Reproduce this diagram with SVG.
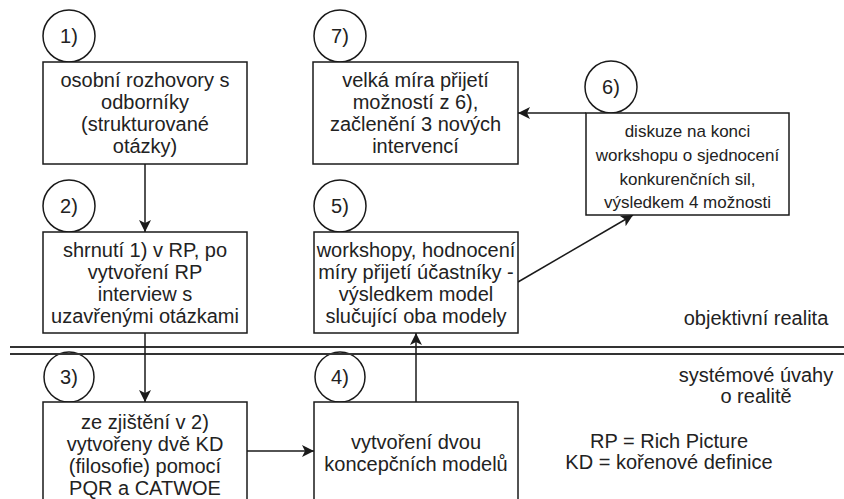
<svg xmlns="http://www.w3.org/2000/svg" width="844" height="499" viewBox="0 0 844 499">
  <style>
    .box { fill: #ffffff; stroke: #1a1a1a; stroke-width: 1.5; }
    .num { fill: #ffffff; stroke: #1a1a1a; stroke-width: 1.5; }
    .t { font-family: "Liberation Sans", Arial, sans-serif; font-size: 20px; fill: #222222; text-anchor: middle; }
    .ts { font-family: "Liberation Sans", Arial, sans-serif; font-size: 17px; fill: #222222; text-anchor: middle; }
    .edge { fill: none; stroke: #1a1a1a; stroke-width: 1.5; marker-end: url(#arrow); }
    .split { fill: none; stroke: #333333; stroke-width: 2; }
  </style>
  <defs>
    <marker id="arrow" markerUnits="userSpaceOnUse" markerWidth="14" markerHeight="12" viewBox="0 0 14 12" refX="12" refY="6" orient="auto">
      <path d="M0,0 L12,6 L0,12 L3,6 z" fill="#1a1a1a"/>
    </marker>
  </defs>
  <rect width="844" height="499" fill="#ffffff"/>

  <!-- step markers -->
  <g id="n1-num"><circle class="num" cx="69" cy="36" r="26"/><text class="t" x="69" y="43">1)</text></g>
  <g id="n2-num"><circle class="num" cx="69" cy="206" r="26"/><text class="t" x="69" y="213">2)</text></g>
  <g id="n3-num"><circle class="num" cx="69" cy="377" r="25"/><text class="t" x="69" y="384">3)</text></g>
  <g id="n4-num"><circle class="num" cx="340" cy="377" r="25"/><text class="t" x="340" y="384">4)</text></g>
  <g id="n5-num"><circle class="num" cx="340" cy="206" r="26"/><text class="t" x="340" y="213">5)</text></g>
  <g id="n6-num"><circle class="num" cx="611" cy="87" r="26"/><text class="t" x="611" y="94">6)</text></g>
  <g id="n7-num"><circle class="num" cx="340" cy="36" r="26"/><text class="t" x="340" y="43">7)</text></g>

  <!-- boundary between reality and systems thinking -->
  <g id="boundary">
    <line class="split" x1="10" y1="347" x2="844" y2="347"/>
    <line class="split" x1="10" y1="354" x2="844" y2="354"/>
  </g>

  <g id="connectors">
    <line class="edge" x1="145" y1="164" x2="145" y2="232"/>
    <line class="edge" x1="145" y1="333" x2="145" y2="402"/>
    <line class="edge" x1="247" y1="451" x2="314" y2="451"/>
    <line class="edge" x1="416" y1="402" x2="416" y2="333"/>
    <line class="edge" x1="518" y1="282" x2="633" y2="215"/>
    <line class="edge" x1="586" y1="113" x2="518" y2="113"/>
  </g>

  <g id="n1">
    <rect class="box" x="43" y="62" width="204" height="102"/>
    <text class="t" x="145" y="87">osobní rozhovory s</text>
    <text class="t" x="145" y="109">odborníky</text>
    <text class="t" x="145" y="131">(strukturované</text>
    <text class="t" x="145" y="153">otázky)</text>
  </g>

  <g id="n2">
    <rect class="box" x="43" y="232" width="204" height="101"/>
    <text class="t" x="145" y="257">shrnutí 1) v RP, po</text>
    <text class="t" x="145" y="279">vytvoření RP</text>
    <text class="t" x="145" y="301">interview s</text>
    <text class="t" x="145" y="323">uzavřenými otázkami</text>
  </g>

  <g id="n3">
    <rect class="box" x="43" y="402" width="204" height="106"/>
    <text class="t" x="145" y="429">ze zjištění v 2)</text>
    <text class="t" x="145" y="451">vytvořeny dvě KD</text>
    <text class="t" x="145" y="473">(filosofie) pomocí</text>
    <text class="t" x="145" y="495">PQR a CATWOE</text>
  </g>

  <g id="n4">
    <rect class="box" x="314" y="402" width="204" height="106"/>
    <text class="t" x="416" y="449">vytvoření dvou</text>
    <text class="t" x="416" y="471">koncepčních modelů</text>
  </g>

  <g id="n5">
    <rect class="box" x="314" y="232" width="204" height="101"/>
    <text class="t" x="416" y="257">workshopy, hodnocení</text>
    <text class="t" x="416" y="279">míry přijetí účastníky -</text>
    <text class="t" x="416" y="301">výsledkem model</text>
    <text class="t" x="416" y="323">slučující oba modely</text>
  </g>

  <g id="n6">
    <rect class="box" x="586" y="113" width="203" height="102"/>
    <text class="ts" x="687.5" y="137">diskuze na konci</text>
    <text class="ts" x="687.5" y="161">workshopu o sjednocení</text>
    <text class="ts" x="687.5" y="185">konkurenčních sil,</text>
    <text class="ts" x="687.5" y="208">výsledkem 4 možnosti</text>
  </g>

  <g id="n7">
    <rect class="box" x="313" y="62" width="205" height="102"/>
    <text class="t" x="415.5" y="87">velká míra přijetí</text>
    <text class="t" x="415.5" y="109">možností z 6),</text>
    <text class="t" x="415.5" y="131">začlenění 3 nových</text>
    <text class="t" x="415.5" y="153">intervencí</text>
  </g>

  <g id="labels">
    <text class="t" x="756" y="325">objektivní realita</text>
    <text class="t" x="756" y="382">systémové úvahy</text>
    <text class="t" x="756" y="403">o realitě</text>
    <text class="t" x="669" y="448">RP = Rich Picture</text>
    <text class="t" x="669" y="469">KD = kořenové definice</text>
  </g>
</svg>
